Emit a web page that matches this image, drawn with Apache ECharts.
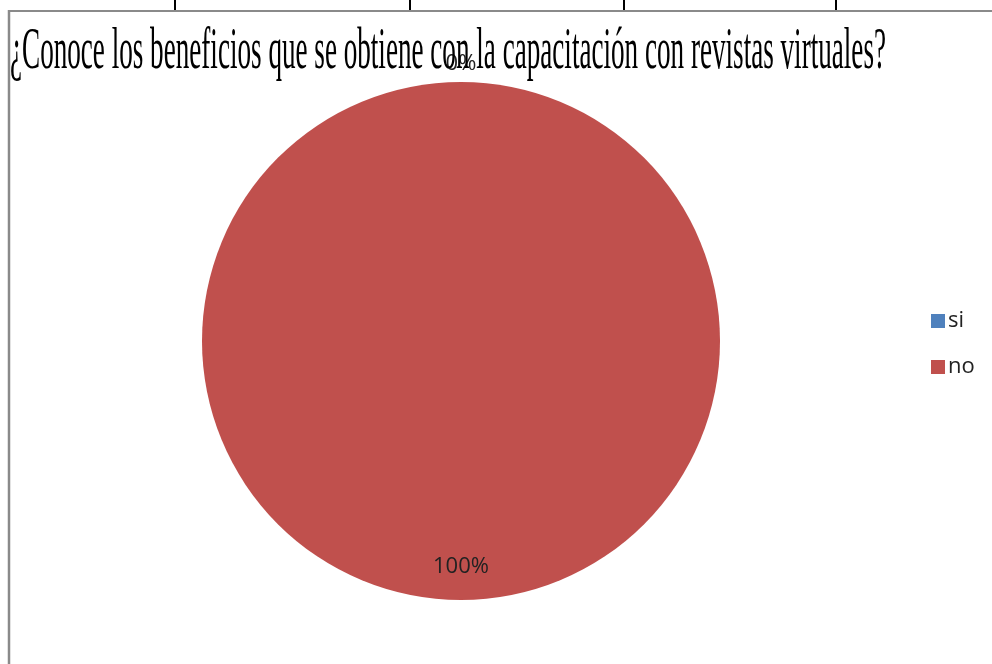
<!DOCTYPE html>
<html>
<head>
<meta charset="utf-8">
<script src="https://cdn.jsdelivr.net/npm/echarts@6/dist/echarts.min.js"></script>
<style>
html,body{margin:0;padding:0;background:#fff;}
#chart{width:992px;height:664px;}
</style>
</head>
<body>
<div id="chart"></div>
<script>
// Survey answers and their shares
const categories = ['si', 'no'];
const values = [0, 100];
const colors = ['#4F81BD', '#C0504D'];
const titleText = '¿Conoce los beneficios que se obtiene con la capacitación con revistas virtuales?';

// Condensed serif title: squeeze horizontally to the frame width
const titleFont = '60px "Liberation Serif", "Times New Roman", serif';
const ctx = document.createElement('canvas').getContext('2d');
ctx.font = titleFont;
const titleWidth = ctx.measureText(titleText).width;
const titleScaleX = 876 / titleWidth;

const chart = echarts.init(document.getElementById('chart'), null, {renderer: 'canvas'});

const tableLines = [175, 410, 624, 836].map(x => ({
  type: 'line',
  shape: {x1: x, y1: 0, x2: x, y2: 10},
  style: {stroke: '#000', lineWidth: 2}
}));

const labelFont = '"Open Sans", "Liberation Sans", sans-serif';

chart.setOption({
  backgroundColor: '#fff',
  animation: false,
  color: colors,
  legend: {
    orient: 'vertical',
    left: 926,
    top: 305,
    itemWidth: 14,
    itemHeight: 14,
    itemGap: 24,
    icon: 'rect',
    data: categories,
    textStyle: {fontSize: 22, color: '#222', fontFamily: labelFont, padding: [0, 0, 0, -2]}
  },
  graphic: [
    ...tableLines,
    {type: 'line', shape: {x1: 9, y1: 11, x2: 992, y2: 11}, style: {stroke: '#8a8a8a', lineWidth: 2}},
    {type: 'line', shape: {x1: 9, y1: 10, x2: 9, y2: 664}, style: {stroke: '#8a8a8a', lineWidth: 2.5}},
    {
      type: 'text',
      left: 10,
      top: 22,
      scaleX: titleScaleX,
      z: 10,
      style: {
        text: titleText,
        font: titleFont,
        fill: '#000'
      }
    }
  ],
  series: [{
    type: 'pie',
    center: [461, 341],
    radius: 259,
    startAngle: 90,
    clockwise: true,
    avoidLabelOverlap: false,
    label: {
      show: true,
      formatter: '{d}%',
      fontSize: 22,
      color: '#222',
      fontFamily: labelFont
    },
    labelLine: {show: false},
    data: categories.map((name, i) => ({
      name: name,
      value: values[i],
      label: i === 0
        ? {position: 'inside', offset: [0, -145]}
        : {position: 'inside', offset: [0, 93]}
    })),
    itemStyle: {borderWidth: 0}
  }]
});
</script>
</body>
</html>
